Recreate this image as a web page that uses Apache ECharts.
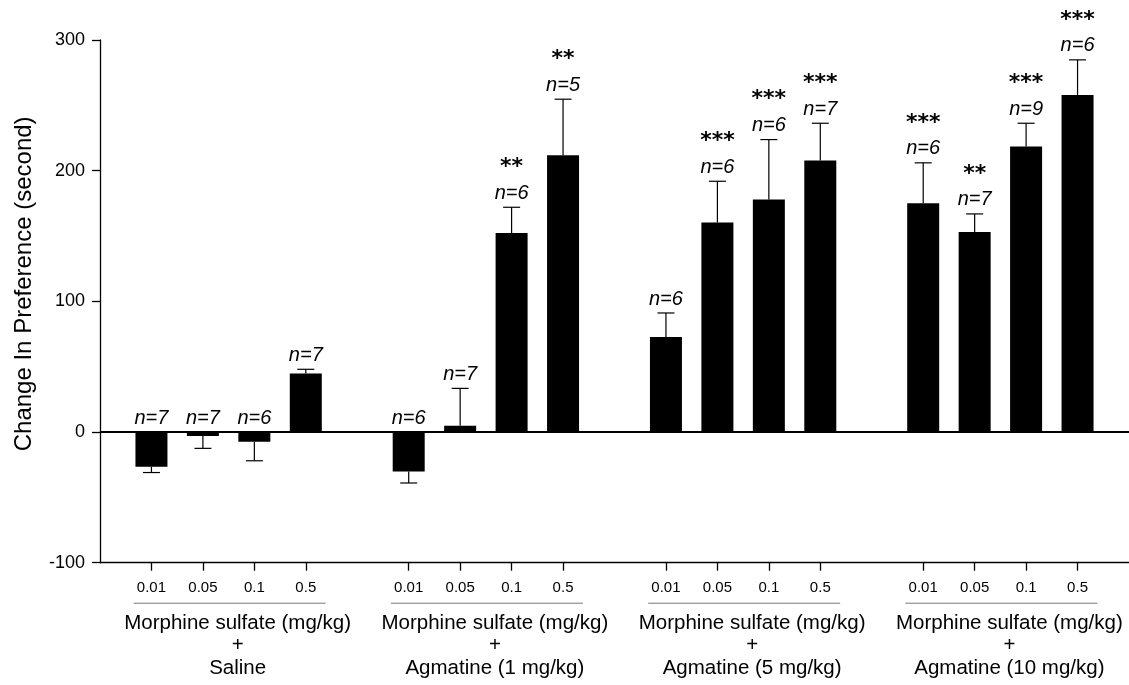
<!DOCTYPE html>
<html>
<head>
<meta charset="utf-8">
<script src="https://cdn.jsdelivr.net/npm/echarts@6/dist/echarts.min.js"></script>
<style>
html,body{margin:0;padding:0;background:#fff;}
#chart{width:1129px;height:685px;}
</style>
</head>
<body>
<div id="chart"></div>
<script>
// ---- data ----
const doses = ['0.01', '0.05', '0.1', '0.5'];
const groupLabels = ['Saline', 'Agmatine (1 mg/kg)', 'Agmatine (5 mg/kg)', 'Agmatine (10 mg/kg)'];
const meanSaline = [-26.5, -3, -7.5, 44.7];
const semSaline  = [4.5, 9.5, 14.5, 3.3];
const nSaline    = [7, 7, 6, 7];
const sigSaline  = ['', '', '', ''];
const meanAg1 = [-30.2, 4.8, 152.4, 211.8];
const semAg1  = [8.8, 28.6, 19.6, 42.9];
const nAg1    = [6, 7, 6, 5];
const sigAg1  = ['', '', '**', '**'];
const meanAg5 = [72.7, 160.3, 177.9, 207.7];
const semAg5  = [18.4, 31.6, 45.9, 28.6];
const nAg5    = [6, 6, 6, 7];
const sigAg5  = ['', '***', '***', '***'];
const meanAg10 = [175.0, 153.1, 218.5, 258.0];
const semAg10  = [31.0, 13.8, 17.8, 26.8];
const nAg10    = [6, 7, 9, 6];
const sigAg10  = ['***', '**', '***', '***'];
const yTicks = [-100, 0, 100, 200, 300];
const yAxisTitle = 'Change In Preference (second)';
const groupHead = 'Morphine sulfate (mg/kg)';

// ---- build ----
const groups = [
  {m: meanSaline, s: semSaline, n: nSaline, sig: sigSaline},
  {m: meanAg1, s: semAg1, n: nAg1, sig: sigAg1},
  {m: meanAg5, s: semAg5, n: nAg5, sig: sigAg5},
  {m: meanAg10, s: semAg10, n: nAg10, sig: sigAg10}
];
const categories = [];
const barData = [];
const errData = [];
const nText = [];
const sigText = [];
const groupCenters = [];
groups.forEach(g => {
  categories.push(''); barData.push('-');
  const start = categories.length;
  doses.forEach((d, i) => {
    const idx = categories.length;
    categories.push(d);
    barData.push(g.m[i]);
    errData.push([idx, g.m[i], g.s[i]]);
    nText.push('n=' + g.n[i]);
    sigText.push(g.sig[i]);
  });
  groupCenters.push([start, categories.length - 1]);
});
categories.push(''); barData.push('-');

const FONT = "'Liberation Sans', Arial, sans-serif";
const chart = echarts.init(document.getElementById('chart'), null, {renderer: 'canvas'});

const option = {
  animation: false,
  backgroundColor: '#fff',
  grid: {left: 100, right: 0, top: 40, bottom: 122.3, containLabel: false},
  xAxis: {
    type: 'category',
    data: categories,
    boundaryGap: false,
    axisLine: {show: true, onZero: false, lineStyle: {color: '#000', width: 1.3}},
    axisTick: {show: true, length: 8, interval: (i, v) => v !== '', lineStyle: {color: '#000', width: 1.3}},
    axisLabel: {interval: (i, v) => v !== '', fontSize: 15, color: '#000', fontFamily: FONT, margin: 18},
    splitLine: {show: false}
  },
  yAxis: {
    type: 'value',
    min: yTicks[0], max: yTicks[yTicks.length - 1], interval: 100,
    name: yAxisTitle,
    nameLocation: 'middle',
    nameGap: 64,
    nameRotate: 90,
    nameTextStyle: {fontSize: 24, color: '#000', fontFamily: FONT, padding: [0, 0, 0, 35]},
    axisLine: {show: true, lineStyle: {color: '#000', width: 1.3}},
    axisTick: {show: true, length: 8, lineStyle: {color: '#000', width: 1.3}},
    axisLabel: {fontSize: 18, color: '#000', fontFamily: FONT, margin: 15},
    splitLine: {show: false}
  },
  series: [
    {
      type: 'bar',
      data: barData,
      barWidth: 32,
      itemStyle: {color: '#000'},
      z: 2,
      markLine: {
        silent: true,
        symbol: 'none',
        label: {show: false},
        lineStyle: {color: '#000', width: 2, type: 'solid'},
        data: [{yAxis: 0}]
      }
    },
    {
      type: 'custom',
      z: 3,
      data: errData,
      renderItem: function (params, api) {
        const x = api.value(0), m = api.value(1), e = api.value(2);
        const end = m >= 0 ? m + e : m - e;
        const p0 = api.coord([x, m]);
        const p1 = api.coord([x, end]);
        const st = {stroke: '#000', lineWidth: 1.2};
        return {type: 'group', children: [
          {type: 'line', shape: {x1: p0[0], y1: p0[1], x2: p1[0], y2: p1[1]}, style: st},
          {type: 'line', shape: {x1: p1[0] - 8.5, y1: p1[1], x2: p1[0] + 8.5, y2: p1[1]}, style: st}
        ]};
      }
    },
    {
      type: 'custom',
      z: 4,
      data: errData,
      renderItem: function (params, api) {
        const x = api.value(0), m = api.value(1), e = api.value(2);
        const top = m >= 0 ? m + e : 0;
        const p = api.coord([x, top]);
        const ny = p[1] - 14;
        const children = [
          {type: 'text', x: p[0], y: ny, style: {text: nText[params.dataIndex], fill: '#000',
            font: 'italic 20px ' + FONT, textAlign: 'center', textVerticalAlign: 'middle'}}
        ];
        const s = sigText[params.dataIndex];
        if (s) {
          children.push({type: 'text', x: p[0], y: ny - 26, style: {text: s, fill: '#000',
            font: 'bold 22px "DejaVu Sans", sans-serif', textAlign: 'center', textVerticalAlign: 'middle'}});
        }
        return {type: 'group', children: children};
      }
    }
  ]
};
chart.setOption(option);

// group annotations beneath the x axis
const yBottom = chart.convertToPixel({yAxisIndex: 0}, yTicks[0]);
const gfx = [];
groupCenters.forEach((rng, gi) => {
  const xa = chart.convertToPixel({xAxisIndex: 0}, rng[0]);
  const xb = chart.convertToPixel({xAxisIndex: 0}, rng[1]);
  const c = (xa + xb) / 2;
  gfx.push({type: 'line', shape: {x1: c - 95, y1: yBottom + 40.5, x2: c + 97, y2: yBottom + 40.5},
    style: {stroke: '#777', lineWidth: 1}});
  gfx.push({type: 'text', x: c + 9, y: yBottom + 49, style: {
    text: groupHead + '\n+\n' + groupLabels[gi], fill: '#000', font: '20.5px ' + FONT,
    textAlign: 'center', textVerticalAlign: 'top', lineHeight: 22.5}});
});
chart.setOption({graphic: gfx});
</script>
</body>
</html>
